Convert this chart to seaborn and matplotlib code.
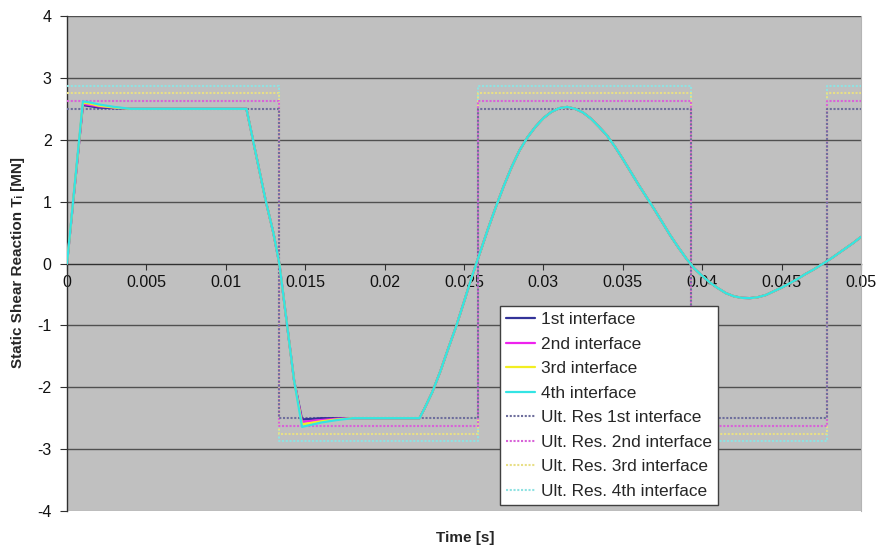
import matplotlib
matplotlib.use("Agg")
import matplotlib.pyplot as plt
import numpy as np
import pandas as pd
import seaborn as sns

# Time samples [s] for the slip phase (loading, slip plateau, reversal, slip plateau)
time_head = [0.0, 0.001, 0.0015, 0.002, 0.003, 0.004, 0.007, 0.0113, 0.0125,
             0.0130, 0.01337, 0.0143, 0.0148, 0.0155, 0.0160, 0.0170, 0.0180,
             0.0200, 0.0222]
# Shear reaction [MN] of each interface during the slip phase
shear_1st_head = [0.0, 2.56, 2.54, 2.52, 2.51, 2.50, 2.50, 2.50, 1.03, 0.49, 0.0,
                  -1.89, -2.52, -2.51, -2.50, -2.50, -2.50, -2.50, -2.50]
shear_2nd_head = [0.0, 2.58, 2.56, 2.54, 2.52, 2.50, 2.50, 2.50, 1.03, 0.49, 0.0,
                  -1.89, -2.56, -2.54, -2.53, -2.51, -2.50, -2.50, -2.50]
shear_3rd_head = [0.0, 2.60, 2.58, 2.55, 2.52, 2.50, 2.50, 2.50, 1.03, 0.49, 0.0,
                  -1.89, -2.60, -2.57, -2.55, -2.52, -2.50, -2.50, -2.50]
shear_4th_head = [0.0, 2.62, 2.60, 2.57, 2.53, 2.50, 2.50, 2.50, 1.03, 0.49, 0.0,
                  -1.89, -2.64, -2.60, -2.57, -2.53, -2.50, -2.50, -2.50]

# Time samples [s] for the elastic (stick) phase, common to all interfaces
time_tail = [0.0225, 0.0230, 0.0235, 0.0240, 0.0245, 0.0250, 0.0255, 0.0260,
             0.0265, 0.0270, 0.0275, 0.0280, 0.0285, 0.0290, 0.0295, 0.0300,
             0.0305, 0.0310, 0.0315, 0.0320, 0.0325, 0.0330, 0.0335, 0.0340,
             0.0345, 0.0350, 0.0355, 0.0360, 0.0365, 0.0370, 0.0375, 0.0380,
             0.0385, 0.0390, 0.0395, 0.0400, 0.0405, 0.0410, 0.0415, 0.0420,
             0.0425, 0.0430, 0.0435, 0.0440, 0.0445, 0.0450, 0.0455, 0.0460,
             0.0465, 0.0470, 0.0475, 0.0480, 0.0485, 0.0490, 0.0495, 0.0500]
shear_tail = [-2.35, -2.08, -1.75, -1.38, -1.02, -0.62, -0.21, 0.17,
              0.55, 0.91, 1.25, 1.56, 1.83, 2.04, 2.21, 2.35,
              2.45, 2.51, 2.53, 2.50, 2.44, 2.34, 2.21, 2.07,
              1.89, 1.69, 1.48, 1.27, 1.07, 0.87, 0.66, 0.45,
              0.26, 0.08, -0.08, -0.20, -0.31, -0.40, -0.48, -0.53,
              -0.555, -0.56, -0.545, -0.51, -0.45, -0.39, -0.32, -0.25,
              -0.17, -0.10, -0.02, 0.06, 0.15, 0.24, 0.33, 0.43]

# Ultimate resistance of each interface [MN] and the times the shear changes sign
ult_capacity = [2.5, 2.625, 2.75, 2.875]
reversal_times = [0.01337, 0.0259, 0.03927, 0.04784]

interface_labels = ["1st interface", "2nd interface", "3rd interface", "4th interface"]
ult_labels = ["Ult. Res 1st interface", "Ult. Res. 2nd interface",
              "Ult. Res. 3rd interface", "Ult. Res. 4th interface"]

x_ticks = [0.0, 0.005, 0.01, 0.015, 0.02, 0.025, 0.03, 0.035, 0.04, 0.045, 0.05]
x_tick_labels = ["0", "0.005", "0.01", "0.015", "0.02", "0.025", "0.03",
                 "0.035", "0.04", "0.045", "0.05"]
y_ticks = [-4, -3, -2, -1, 0, 1, 2, 3, 4]

curve_colors = ["#333399", "#ee22ee", "#f2ee22", "#33e4e4"]
ult_colors = ["#6e6e9c", "#d862d8", "#e8df86", "#8fe2e2"]

sns.set_style("white")
plt.rcParams["font.family"] = ["Liberation Sans", "DejaVu Sans"]

fig = plt.figure(figsize=(8.8, 5.52), dpi=100, facecolor="white")
ax = fig.add_axes([67 / 880, 1 - 511 / 552, (861 - 67) / 880, (511 - 16) / 552])
ax.set_facecolor("#c0c0c0")

t_end = x_ticks[-1]

# step outlines of the ultimate resistance, switching sign at each reversal
step_t = [0.0]
step_sign = [1]
sign = 1
for r in reversal_times:
    step_t += [r, r]
    step_sign += [sign, -sign]
    sign = -sign
step_t.append(t_end)
step_sign.append(sign)

heads = [shear_1st_head, shear_2nd_head, shear_3rd_head, shear_4th_head]
for label, head, color in zip(interface_labels, heads, curve_colors):
    df = pd.DataFrame({"t": time_head + time_tail, "T": head + shear_tail})
    sns.lineplot(data=df, x="t", y="T", ax=ax, color=color, lw=1.6,
                 estimator=None, sort=False, label=label, zorder=4)

# inner (darker) resistance outlines stay on top where the verticals coincide
for i, (label, cap, color) in enumerate(zip(ult_labels, ult_capacity, ult_colors)):
    df = pd.DataFrame({"t": step_t, "T": [s * cap for s in step_sign]})
    sns.lineplot(data=df, x="t", y="T", ax=ax, color=color, lw=1.5,
                 linestyle=(0, (1, 0.8)), estimator=None, sort=False,
                 label=label, zorder=3.5 - 0.1 * i)

ax.set_xlim(0, t_end)
ax.set_ylim(-4, 4)
ax.set_xlabel("")
ax.set_ylabel("")

# horizontal gridlines (none along the lower frame edge)
for y in y_ticks[1:]:
    if y != 0:
        ax.axhline(y, color="#505050", lw=1.0, zorder=1)

# x axis crosses at zero
ax.spines["bottom"].set_position(("data", 0))
ax.spines["bottom"].set_color("#303030")
ax.spines["bottom"].set_linewidth(1.0)
ax.spines["bottom"].set_zorder(2)
ax.spines["left"].set_color("#303030")
ax.spines["left"].set_linewidth(1.0)
ax.spines["top"].set_visible(False)
ax.spines["right"].set_color("#b4b4b4")
ax.spines["right"].set_linewidth(0.8)
ax.axhline(-4, color="#b4b4b4", lw=1.0, zorder=1)

ax.set_xticks(x_ticks)
ax.set_xticklabels(x_tick_labels)
ax.set_yticks(y_ticks)
ax.set_yticklabels([str(v) for v in y_ticks])
ax.tick_params(axis="x", direction="out", length=4, width=0.8, color="#303030",
               pad=4, labelsize=11.5, labelcolor="#111111")
ax.tick_params(axis="y", direction="out", length=5, width=0.8, color="#303030",
               pad=6, labelsize=11.5, labelcolor="#111111")
ax.tick_params(bottom=True, left=True)

fig.text(18 / 880, 1 - 262 / 552, "Static Shear Reaction Tᵢ [MN]", rotation=90,
         ha="center", va="center", fontsize=11, fontweight="bold",
         family=["Liberation Sans", "DejaVu Sans"])
fig.text(465 / 880, 1 - 538 / 552, "Time [s]", ha="center", va="center",
         fontsize=11, fontweight="bold")

leg = ax.legend(loc="upper left", bbox_to_anchor=(500 / 880, 1 - 306 / 552),
                bbox_transform=fig.transFigure, frameon=True, fancybox=False,
                shadow=False, fontsize=12.4, handlelength=1.7, handletextpad=0.35,
                labelspacing=0.55, borderpad=0.35, borderaxespad=0)
leg.get_frame().set_edgecolor("#404040")
leg.get_frame().set_linewidth(1.0)
leg.get_frame().set_facecolor("white")
leg.get_frame().set_alpha(1.0)
leg.set_zorder(10)

fig.savefig("out.png", dpi=100, facecolor="white")
